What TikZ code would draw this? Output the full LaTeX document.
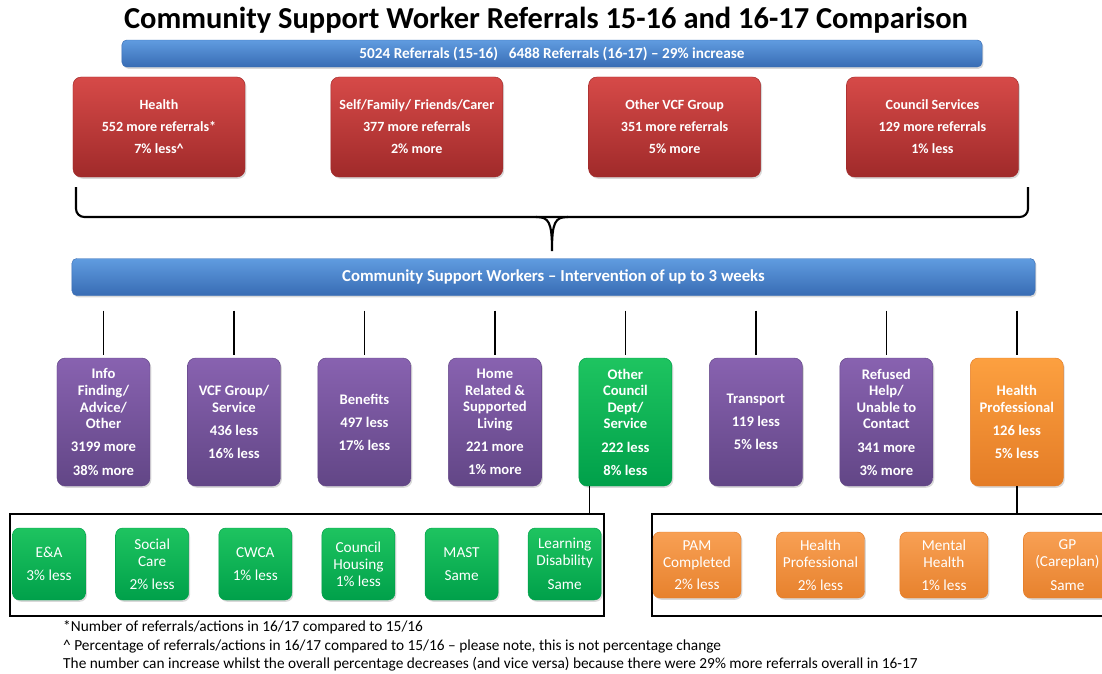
\documentclass[tikz,border=0pt]{standalone}
\usepackage{fontspec}
\setmainfont{Carlito}
\usetikzlibrary{shadows,positioning}

\definecolor{barT}{RGB}{96,156,224}
\definecolor{barB}{RGB}{56,108,180}
\definecolor{redT}{RGB}{214,74,72}
\definecolor{redB}{RGB}{160,42,42}
\definecolor{purT}{RGB}{136,98,176}
\definecolor{purB}{RGB}{98,70,134}
\definecolor{grnT}{RGB}{30,196,96}
\definecolor{grnB}{RGB}{0,160,74}
\definecolor{ornT}{RGB}{252,160,64}
\definecolor{ornB}{RGB}{228,124,38}
\definecolor{ornL}{RGB}{248,160,84}

\tikzset{
	shade/.style={drop shadow={opacity=0.3,shadow xshift=1.2pt,shadow yshift=-1.5pt}},
	bar/.style={shade,rounded corners=4pt,draw=barB,top color=barT,bottom color=barB,text=white,inner sep=0pt},
	source/.style={shade,rounded corners=7pt,draw=redB,top color=redT,bottom color=redB,text=white,
		minimum width=5.16cm,minimum height=3cm,align=center,font=\bfseries\fontsize{12}{18.7}\selectfont},
	action/.style={shade,rounded corners=7pt,draw=purB,top color=purT,bottom color=purB,text=white,
		minimum width=2.79cm,minimum height=3.84cm,align=center,inner sep=0pt,font=\bfseries\fontsize{12.5}{14.2}\selectfont},
	council/.style={action,draw=grnB,top color=grnT,bottom color=grnB},
	healthpro/.style={action,draw=ornB,top color=ornT,bottom color=ornB},
	cbox/.style={shade,rounded corners=6pt,draw=grnB,top color=grnT,bottom color=grnB,text=white,
		minimum width=2.19cm,minimum height=2.16cm,align=center,inner sep=0pt,font=\fontsize{13}{14.5}\selectfont},
	hbox/.style={shade,rounded corners=6pt,draw=ornB,top color=ornL,bottom color=ornB!85!ornL,text=white,
		minimum width=2.64cm,minimum height=1.98cm,align=center,inner sep=0pt,font=\fontsize{13}{14.5}\selectfont},
	frame/.style={draw,line width=2pt,inner sep=0pt},
	link/.style={line width=1.2pt},
	note/.style={anchor=west,inner sep=0pt,font=\fontsize{13.1}{14}\selectfont}
}

\begin{document}
\begin{tikzpicture}[x=0.03cm,y=-0.03cm]
	\useasboundingbox (0,0) rectangle (1102,673);

	\node[font=\bfseries\fontsize{26}{30}\selectfont] (title) at (546,20) {Community Support Worker Referrals 15-16 and 16-17 Comparison};
	\node[bar,minimum width=25.8cm,minimum height=0.81cm,font=\bfseries\fontsize{13}{14}\selectfont] (total) at (552,53.5)
		{5024 Referrals (15-16)\hspace{0.7em}6488 Referrals (16-17) -- 29\% increase};

	% where the referrals came from
	\node[source] (health) at (159,127) {Health\\552 more referrals*\\7\% less\textasciicircum};
	\node[source,right=2.56cm of health] (self) {Self/Family/ Friends/Carer\\377 more referrals\\2\% more};
	\node[source,right=2.56cm of self] (vcf) {Other VCF Group\\351 more referrals\\5\% more};
	\node[source,right=2.56cm of vcf] (services) {Council Services\\129 more referrals\\1\% less};

	% brace
	\draw[line width=1.8pt,rounded corners=7pt] (76,187) -- (76,217) -- (1028,217) -- (1028,187);
	\draw[line width=1.8pt] (536,217) .. controls (549,217) and (552,222) .. (552,251)
		.. controls (552,222) and (555,217) .. (568,217);

	\node[bar,minimum width=28.89cm,minimum height=1.11cm,font=\bfseries\fontsize{14.3}{16}\selectfont] (csw) at (553.5,277)
		{Community Support Workers -- Intervention of up to 3 weeks};

	% what happened next
	\node[action] (info) at (103.5,422) {Info\\Finding/\\Advice/\\Other\\[5.5pt]3199 more\\[5.5pt]38\% more};
	\node[action,right=1.11cm of info] (group) {VCF Group/\\Service\\[5.5pt]436 less\\[5.5pt]16\% less};
	\node[action,right=1.11cm of group] (benefits) {Benefits\\[5.5pt]497 less\\[5.5pt]17\% less};
	\node[action,right=1.11cm of benefits] (home) {Home\\Related \&\\Supported\\Living\\[5.5pt]221 more\\[5.5pt]1\% more};
	\node[council,right=1.11cm of home] (dept) {Other\\Council\\Dept/\\Service\\[5.5pt]222 less\\[5.5pt]8\% less};
	\node[action,right=1.11cm of dept] (transport) {Transport\\[5.5pt]119 less\\[5.5pt]5\% less};
	\node[action,right=1.11cm of transport] (refused) {Refused\\Help/\\Unable to\\Contact\\[5.5pt]341 more\\[5.5pt]3\% more};
	\node[healthpro,right=1.11cm of refused] (hp) {Health\\Professional\\[5.5pt]126 less\\[5.5pt]5\% less};

	\foreach \b in {info,group,benefits,home,dept,transport,refused,hp}
		\draw[link,shorten <=0.45cm,shorten >=0.09cm] (\b.north |- csw.south) -- (\b.north);

	% council breakdown
	\node[frame,minimum width=17.82cm,minimum height=3.06cm] (cframe) at (307,565) {};
	\node[cbox] (ea) at (49,564) {E\&A\\[5.5pt]3\% less};
	\node[cbox,right=0.89cm of ea] (social) {Social\\Care\\[5.5pt]2\% less};
	\node[cbox,right=0.89cm of social] (cwca) {CWCA\\[5.5pt]1\% less};
	\node[cbox,right=0.89cm of cwca] (housing) {Council\\Housing\\1\% less};
	\node[cbox,right=0.89cm of housing] (mast) {MAST\\[5.5pt]Same};
	\node[cbox,right=0.89cm of mast] (ld) {Learning\\Disability\\[5.5pt]Same};
	\draw[link] ([xshift=-1.08cm]dept.south) -- ([xshift=-1.08cm]dept.south |- cframe.north);

	% health professional breakdown
	\node[frame,minimum width=13.74cm,minimum height=3.06cm] (hframe) at (881,565) {};
	\node[hbox] (pam) at (697,565) {PAM\\Completed\\[4pt]2\% less};
	\node[hbox,right=1.05cm of pam] (prof) {Health\\Professional\\[5.5pt]2\% less};
	\node[hbox,right=1.05cm of prof] (mental) {Mental\\Health\\[5.5pt]1\% less};
	\node[hbox,right=1.05cm of mental] (gp) {GP\\(Careplan)\\[5.5pt]Same};
	\draw[link] (hp.south) -- (hp.south |- hframe.north);

	\node[note] (n1) at (63,627) {*Number of referrals/actions in 16/17 compared to 15/16};
	\node[note] (n2) at (63,646) {\textasciicircum\ Percentage of referrals/actions in 16/17 compared to 15/16 -- please note, this is not percentage change};
	\node[note] (n3) at (63,664) {The number can increase whilst the overall percentage decreases (and vice versa) because there were 29\% more referrals overall in 16-17};
\end{tikzpicture}
\end{document}
